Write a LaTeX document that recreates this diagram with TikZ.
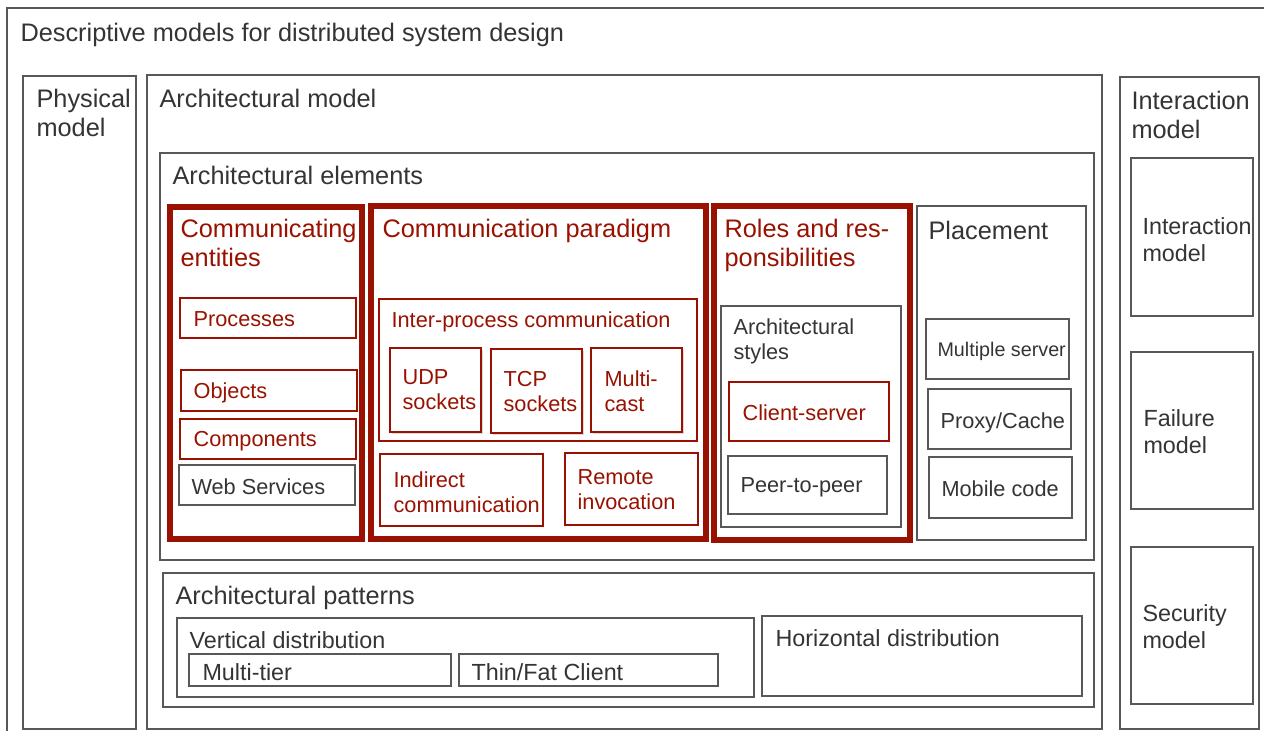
\documentclass[tikz,border=0pt]{standalone}
\usepackage{fontspec}
\setmainfont{Liberation Sans}
\usetikzlibrary{fit, calc, shadows}
\definecolor{darkred}{RGB}{153,17,0}
\definecolor{linegray}{RGB}{88,88,88}
\definecolor{txtgray}{RGB}{52,52,52}

\begin{document}
\begin{tikzpicture}[x=0.75pt, y=-0.75pt]
    \tikzstyle{graybox} = [rectangle, draw=linegray, line width=1.1pt, inner sep=0pt]
    \tikzstyle{redbox} = [rectangle, draw=darkred, line width=1pt, inner sep=0pt]
    \tikzstyle{thickbox} = [rectangle, draw=darkred, line width=4pt, inner sep=0pt]
    \tikzstyle{shadowbox} = [redbox, fill=white, drop shadow={shadow xshift=1.5pt, shadow yshift=-1.5pt, opacity=0.3}]
    \tikzstyle{bigtxt} = [anchor=north west, inner sep=0pt, align=left, text=txtgray, font=\fontsize{19}{21.4}\selectfont]
    \tikzstyle{largetxt} = [anchor=north west, inner sep=0pt, align=left, text=txtgray, font=\fontsize{17.5}{20.5}\selectfont]
    \tikzstyle{midtxt} = [anchor=north west, inner sep=0pt, align=left, text=txtgray, font=\fontsize{16.3}{18.75}\selectfont]
    \tikzstyle{smalltxt} = [anchor=north west, inner sep=0pt, align=left, text=txtgray, font=\fontsize{14.8}{17.5}\selectfont]
    \tikzstyle{redtxt} = [text=darkred]
    \useasboundingbox (0,0) rectangle (1264,731);
    \clip (0,0) rectangle (1264,731);
    % Outer frame
    \node (outer) [graybox, fit={(7,8) (1280,750)}] {};
    \node (outerlbl) [bigtxt] at ($(outer.north west)+(14,16)$) {Descriptive models for distributed system design};
    % Physical model
    \node (phys) [graybox, fit={(23,76) (136,729)}] {};
    \node (physlbl) [bigtxt] at ($(phys.north west)+(14,14)$) {Physical\\model};
    % Architectural model
    \node (archmodel) [graybox, fit={(147,75) (1102,729)}] {};
    \node (archmodellbl) [bigtxt] at ($(archmodel.north west)+(13,15)$) {Architectural model};
    \node (archelem) [graybox, fit={(160,153) (1094,560)}] {};
    \node (archelemlbl) [bigtxt] at ($(archelem.north west)+(13,14)$) {Architectural elements};
    % Communicating entities
    \node (entities) [thickbox, fit={(170,207) (362,539)}] {};
    \node (entitieslbl) [bigtxt, redtxt] at ($(entities.north west)+(13,15)$) {Communicating\\entities};
    \node (processes) [redbox, fit={(180,298) (356,338)}] {};
    \node (processeslbl) [midtxt, redtxt] at ($(processes.north west)+(14,14)$) {Processes};
    \node (objects) [redbox, fit={(181,370) (357,411)}] {};
    \node (objectslbl) [midtxt, redtxt] at ($(objects.north west)+(13,13)$) {Objects};
    \node (components) [redbox, fit={(180,419) (356,459)}] {};
    \node (componentslbl) [midtxt, redtxt] at ($(components.north west)+(14,13)$) {Components};
    \node (websvc) [graybox, fit={(179,465) (355,505)}] {};
    \node (websvclbl) [midtxt] at ($(websvc.north west)+(13,14)$) {Web Services};
    % Communication paradigm
    \node (paradigm) [thickbox, fit={(371,206) (706,539)}] {};
    \node (paradigmlbl) [bigtxt, redtxt] at ($(paradigm.north west)+(14,16)$) {Communication paradigm};
    \node (ipc) [redbox, fit={(379,299) (697,441)}] {};
    \node (ipclbl) [midtxt, redtxt] at ($(ipc.north west)+(13,13)$) {Inter-process communication};
    \node (udp) [shadowbox, fit={(390,348) (481,432)}] {};
    \node (udplbl) [midtxt, redtxt] at ($(udp.north west)+(13,22)$) {UDP\\sockets};
    \node (tcp) [shadowbox, fit={(491,349) (582,433)}] {};
    \node (tcplbl) [midtxt, redtxt] at ($(tcp.north west)+(13,23)$) {TCP\\sockets};
    \node (mcast) [shadowbox, fit={(591,348) (682,432)}] {};
    \node (mcastlbl) [midtxt, redtxt] at ($(mcast.north west)+(14,23)$) {Multi-\\cast};
    \node (indirect) [redbox, fit={(380,454) (543,526)}] {};
    \node (indirectlbl) [midtxt, redtxt] at ($(indirect.north west)+(14,18)$) {Indirect\\communication};
    \node (remote) [redbox, fit={(565,453) (698,525)}] {};
    \node (remotelbl) [midtxt, redtxt] at ($(remote.north west)+(13,17)$) {Remote\\invocation};
    % Roles and responsibilities
    \node (roles) [thickbox, fit={(714,206) (910,540)}] {};
    \node (roleslbl) [bigtxt, redtxt] at ($(roles.north west)+(13,16)$) {Roles and res-\\ponsibilities};
    \node (styles) [graybox, fit={(721,306) (901,527)}] {};
    \node (styleslbl) [midtxt] at ($(styles.north west)+(13,13)$) {Architectural\\styles};
    \node (clientsrv) [redbox, fit={(729,382) (889,441)}] {};
    \node (clientsrvlbl) [midtxt, redtxt] at ($(clientsrv.north west)+(14,23)$) {Client-server};
    \node (ptop) [graybox, fit={(728,456) (887,514)}] {};
    \node (ptoplbl) [midtxt] at ($(ptop.north west)+(13,22)$) {Peer-to-peer};
    % Placement
    \node (placement) [graybox, fit={(917,206) (1086,540)}] {};
    \node (placementlbl) [bigtxt] at ($(placement.north west)+(12,16)$) {Placement};
    \node (multisrv) [graybox, fit={(926,319) (1069,379)}] {};
    \node (multisrvlbl) [smalltxt] at ($(multisrv.north west)+(12,24)$) {Multiple server};
    \node (proxy) [graybox, fit={(928,389) (1071,449)}] {};
    \node (proxylbl) [midtxt] at ($(proxy.north west)+(13,24)$) {Proxy/Cache};
    \node (mobile) [graybox, fit={(929,457) (1072,518)}] {};
    \node (mobilelbl) [midtxt] at ($(mobile.north west)+(13,24)$) {Mobile code};
    % Architectural patterns
    \node (archpat) [graybox, fit={(163,573) (1094,707)}] {};
    \node (archpatlbl) [bigtxt] at ($(archpat.north west)+(13,14)$) {Architectural patterns};
    \node (vertical) [graybox, fit={(177,618) (754,697)}] {};
    \node (verticallbl) [largetxt] at ($(vertical.north west)+(13,14)$) {Vertical distribution};
    \node (multitier) [graybox, fit={(189,654) (451,686)}] {};
    \node (multitierlbl) [largetxt] at ($(multitier.north west)+(14,10)$) {Multi-tier};
    \node (thinfat) [graybox, fit={(459,654) (718,686)}] {};
    \node (thinfatlbl) [largetxt] at ($(thinfat.north west)+(13,10)$) {Thin/Fat Client};
    \node (horizontal) [graybox, fit={(762,616) (1082,696)}] {};
    \node (horizontallbl) [largetxt] at ($(horizontal.north west)+(14,14)$) {Horizontal distribution};
    % Interaction model
    \node (interact) [graybox, fit={(1120,77) (1259,729)}] {};
    \node (interactlbl) [bigtxt] at ($(interact.north west)+(12,15)$) {Interaction\\model};
    \node (interactin) [graybox, fit={(1131,158) (1253,316)}] {};
    \node (interactinlbl) [largetxt] at ($(interactin.north west)+(12,60)$) {Interaction\\model};
    \node (failure) [graybox, fit={(1131,352) (1253,509)}] {};
    \node (failurelbl) [largetxt] at ($(failure.north west)+(13,58)$) {Failure\\model};
    \node (security) [graybox, fit={(1131,547) (1253,704)}] {};
    \node (securitylbl) [largetxt] at ($(security.north west)+(12,58)$) {Security\\model};
\end{tikzpicture}
\end{document}
